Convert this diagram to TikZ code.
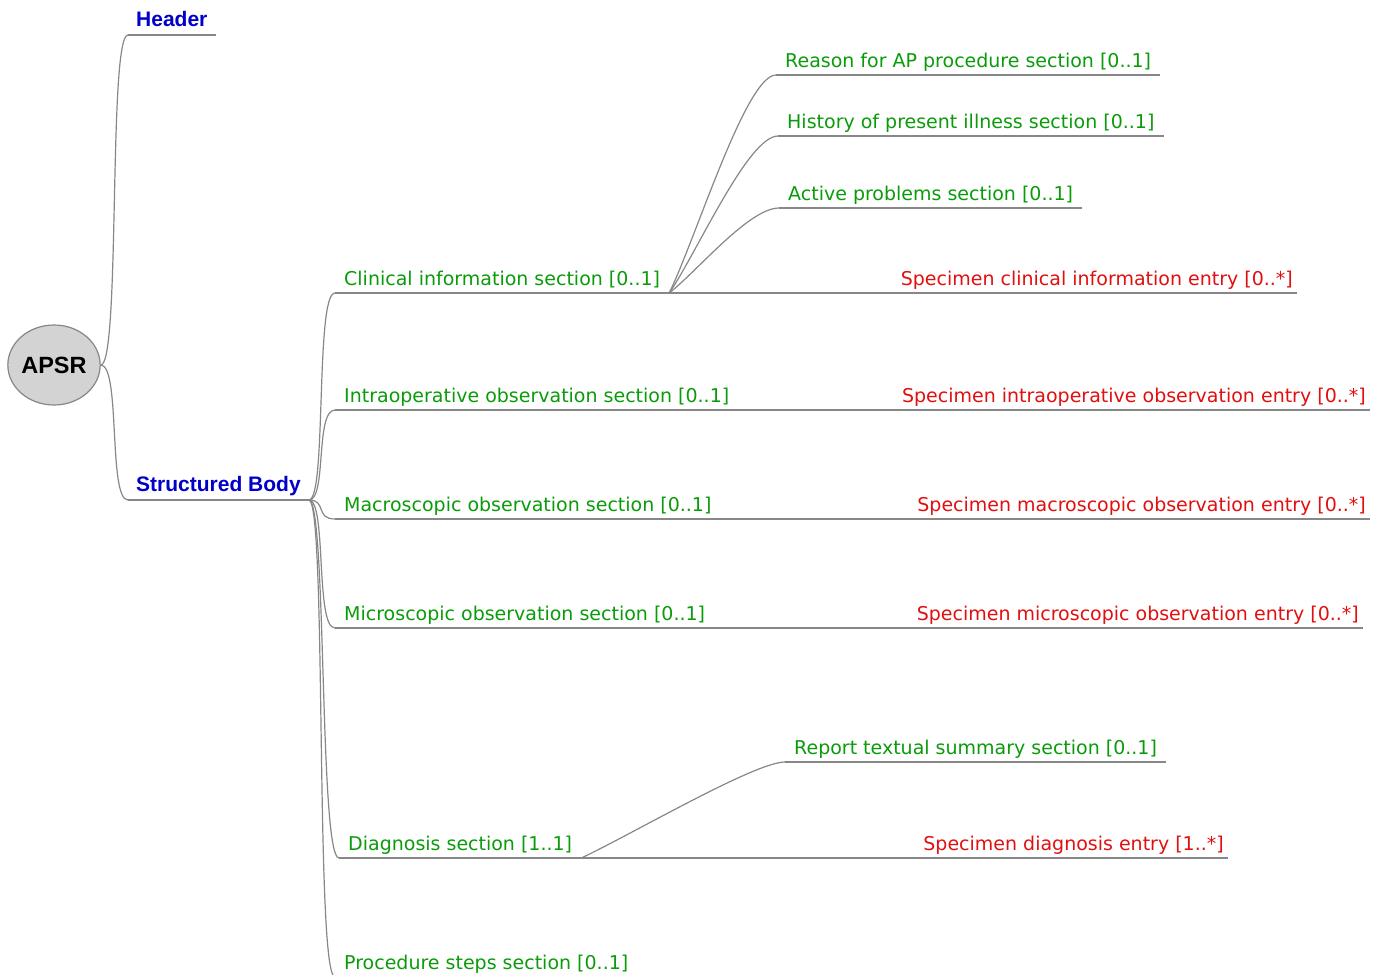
\documentclass[tikz,border=0pt]{standalone}
\usepackage{fontspec}
\setmainfont{DejaVu Sans}
\newfontfamily\libsans{Liberation Sans}
\usetikzlibrary{calc,shapes.geometric}
\definecolor{linegray}{RGB}{135,135,135}
\definecolor{secgreen}{RGB}{10,155,10}
\definecolor{entred}{RGB}{225,15,15}
\definecolor{mainblue}{RGB}{0,0,200}
\definecolor{rootfill}{RGB}{211,211,211}
\begin{document}
\begin{tikzpicture}[x=1pt,y=-1pt,
  edge/.style={draw=linegray, line width=1.2pt},
  seclbl/.style={font=\fontsize{19}{22}\selectfont, text=secgreen, inner xsep=9pt, inner ysep=0pt, text height=14pt, text depth=7pt},
  entlbl/.style={seclbl, text=entred, inner xsep=4pt},
  mainlbl/.style={font=\libsans\bfseries\fontsize{21}{24}\selectfont, text=mainblue, inner xsep=8pt, inner ysep=0pt, text height=15pt, text depth=8pt},
  rootnode/.style={ellipse, draw=linegray, line width=1.2pt, fill=rootfill, minimum width=88pt, minimum height=80pt, inner sep=0pt, font=\libsans\bfseries\fontsize{23.5}{26}\selectfont}
]
\useasboundingbox (0,0) rectangle (1385,975);

% root
\node[rootnode] (apsr) at (54,365) {APSR};

% main branches
\node[mainlbl, anchor=south west] (hdr) at (128,35) {Header};
\node[mainlbl, anchor=south west] (sb) at (128,500) {Structured Body};

% sections
\node[seclbl, anchor=south west] (cl) at (335,293) {Clinical information section [0..1]};
\node[seclbl, anchor=south west] (io) at (335,410) {Intraoperative observation section [0..1]};
\node[seclbl, anchor=south west] (ma) at (335,519) {Macroscopic observation section [0..1]};
\node[seclbl, anchor=south west] (mi) at (335,628) {Microscopic observation section [0..1]};
\node[seclbl, anchor=south west] (dg) at (339,858) {Diagnosis section [1..1]};
\node[seclbl, anchor=south west] (ps) at (335,977) {Procedure steps section [0..1]};

% clinical subsections
\node[seclbl, anchor=south west] (rs) at (776,75) {Reason for AP procedure section [0..1]};
\node[seclbl, anchor=south west] (hi) at (778,136) {History of present illness section [0..1]};
\node[seclbl, anchor=south west] (ap) at (779,208) {Active problems section [0..1]};
\node[seclbl, anchor=south west] (rt) at (785,762) {Report textual summary section [0..1]};

% entries
\node[entlbl, anchor=south east] (sci) at (1297,293) {Specimen clinical information entry [0..*]};
\node[entlbl, anchor=south east] (sio) at (1370,410) {Specimen intraoperative observation entry [0..*]};
\node[entlbl, anchor=south east] (sma) at (1370,519) {Specimen macroscopic observation entry [0..*]};
\node[entlbl, anchor=south east] (smi) at (1363,628) {Specimen microscopic observation entry [0..*]};
\node[entlbl, anchor=south east] (sdg) at (1228,858) {Specimen diagnosis entry [1..*]};

% underlines
\foreach \n in {hdr,sb,cl,io,ma,mi,dg,ps,rs,hi,ap,rt,sci,sio,sma,smi,sdg}
  \draw[edge] (\n.south west) -- (\n.south east);

% root connectors
\foreach \n in {hdr,sb}
  \draw[edge] (apsr.east) .. controls +(20,0) and +(-20,0) .. (\n.south west);

% structured body connectors
\foreach \n in {cl,io,ma,mi,dg,ps}
  \draw[edge] (sb.south east) .. controls +(18,0) and +(-20,0) .. (\n.south west);

% clinical connectors
\foreach \n in {rs,hi,ap}
  \draw[edge] (cl.south east) .. controls ($(cl.south east)!0.25!(\n.south west)$) and +(-30,0) .. (\n.south west);
\draw[edge] (dg.south east) .. controls ($(dg.south east)!0.25!(rt.south west)$) and +(-30,0) .. (rt.south west);

% straight entry connectors
\draw[edge] (cl.south east) -- (sci.south west);
\draw[edge] (io.south east) -- (sio.south west);
\draw[edge] (ma.south east) -- (sma.south west);
\draw[edge] (mi.south east) -- (smi.south west);
\draw[edge] (dg.south east) -- (sdg.south west);
\end{tikzpicture}
\end{document}
